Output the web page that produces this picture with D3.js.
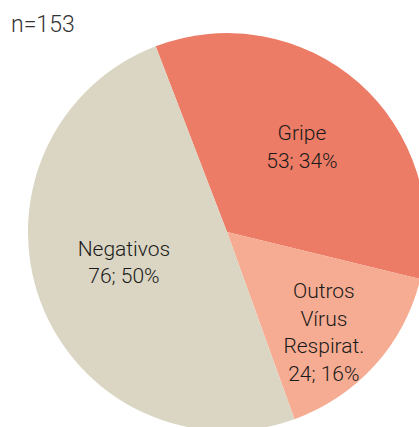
<!DOCTYPE html>
<html>
<head>
<meta charset="utf-8">
<script src="https://cdn.jsdelivr.net/npm/d3@7"></script>
<style>
  html, body { margin: 0; padding: 0; background: #fff; overflow: hidden; }
  text { font-family: Roboto, Lato, sans-serif; font-weight: 300; }
</style>
</head>
<body>
<div id="chart"></div>
<script>
// data
var categories = ["Gripe", "Outros Vírus Respirat.", "Negativos"];
var counts = [53, 24, 76];
var percents = [34, 16, 50];
var total = 153;

var colors = ["#ED7C66", "#F6AC92", "#DAD6C3"];

var width = 419, height = 427;
var cx = 227, cy = 232, radius = 199;
// label placement: fraction of radius, angle nudge (degrees)
var labelRadius = [0.57, 0.70, 0.54];
var labelAngle = [0, 4, 4];

var svg = d3.select("#chart").append("svg")
    .attr("width", width)
    .attr("height", height);

var data = categories.map(function (c, i) {
  return { name: c, count: counts[i], pct: percents[i], color: colors[i], i: i };
});

var start = -21 * Math.PI / 180;
var pie = d3.pie()
    .sort(null)
    .value(function (d) { return d.count; })
    .startAngle(start)
    .endAngle(start + 2 * Math.PI);

var arc = d3.arc().innerRadius(0).outerRadius(radius);

var g = svg.append("g").attr("transform", "translate(" + cx + "," + cy + ")");

var arcs = pie(data);

g.selectAll("path.slice")
  .data(arcs)
  .enter()
  .append("path")
    .attr("class", "slice")
    .attr("d", arc)
    .attr("fill", function (d) { return d.data.color; });

// labels
var lineH = 27.5;
arcs.forEach(function (d) {
  var k = d.data.i;
  var mid = (d.startAngle + d.endAngle) / 2 + labelAngle[k] * Math.PI / 180;
  var r = radius * labelRadius[k];
  var x = r * Math.sin(mid), y = -r * Math.cos(mid);
  var lines = d.data.name.split(" ").concat([d.data.count + "; " + d.data.pct + "%"]);
  var y0 = y - (lines.length - 1) * lineH / 2;
  var t = g.append("text")
      .attr("text-anchor", "middle")
      .attr("font-size", "21px")
      .attr("fill", "#1a1a1a");
  lines.forEach(function (l, j) {
    t.append("tspan")
      .attr("x", x)
      .attr("y", y0 + j * lineH)
      .attr("dy", "0.35em")
      .text(l);
  });
});

svg.append("text")
    .attr("x", 11)
    .attr("y", 32)
    .attr("font-size", "23px")
    .attr("fill", "#333")
    .text("n=" + total);
</script>
</body>
</html>
